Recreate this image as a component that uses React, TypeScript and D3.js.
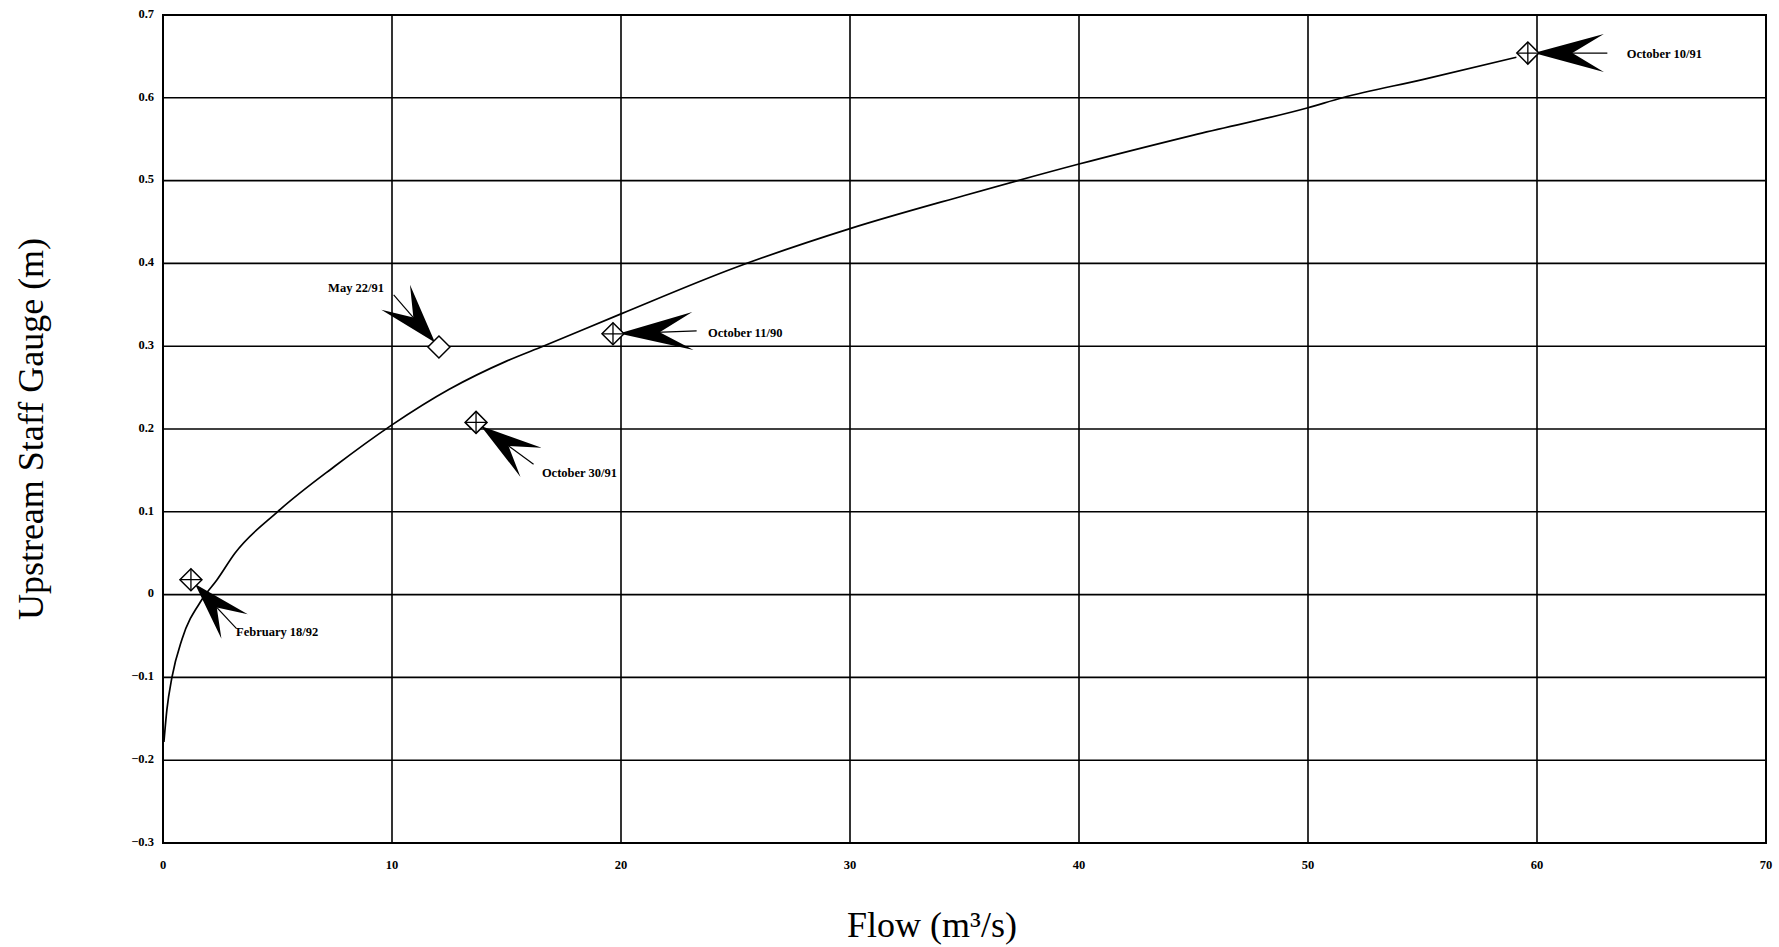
import * as d3 from 'd3'

// rating curve (flow m3/s, stage m)
const curveFlow = [0.04, 0.17, 0.39, 0.83, 1.7, 2.36, 3.14, 5.0, 7.5, 10, 12.5, 15, 16.6, 20, 25, 30, 35, 40, 45, 50, 51.5, 55, 59.1]
const curveStage = [-0.178, -0.139, -0.1, -0.054, -0.006, 0.018, 0.05, 0.1, 0.155, 0.205, 0.248, 0.282, 0.3, 0.339, 0.395, 0.442, 0.482, 0.52, 0.555, 0.588, 0.6, 0.622, 0.649]

// measured points
const pointLabels = ['February 18/92', 'May 22/91', 'October 30/91', 'October 11/90', 'October 10/91']
const pointFlow = [1.22, 12.05, 13.67, 19.65, 59.6]
const pointStage = [0.018, 0.299, 0.208, 0.315, 0.654]
const pointCrossed = [true, false, true, true, true]

const xTicks = [0, 10, 20, 30, 40, 50, 60, 70]
const yTicks = [-0.3, -0.2, -0.1, 0, 0.1, 0.2, 0.3, 0.4, 0.5, 0.6, 0.7]

// arrow placement per point: angle (tip -> tail, degrees), length, half width, label offset
const calloutLayout = [
  { angle: 47, len: 58, w: 18, lx: 41, ly: 49, anchor: 'start' },
  { angle: -131, len: 60, w: 19, lx: -51, ly: -53, anchor: 'end' },
  { angle: 36, len: 62, w: 18, lx: 61, ly: 48, anchor: 'start' },
  { angle: -2, len: 74, w: 19, lx: 89, ly: 1, anchor: 'start' },
  { angle: 0, len: 70, w: 19, lx: 93, ly: 2, anchor: 'start' },
]

const W = 1779
const H = 947
const margin = { left: 163, right: 13, top: 15, bottom: 104 }
const serif = '"Liberation Serif", "Times New Roman", serif'

export default function App() {
  const x = d3.scaleLinear().domain([0, 70]).range([margin.left, W - margin.right])
  const y = d3.scaleLinear().domain([-0.3, 0.7]).range([H - margin.bottom, margin.top])

  const line = d3.line<number>()
    .x((_, i) => x(curveFlow[i]))
    .y((_, i) => y(curveStage[i]))
    .curve(d3.curveMonotoneX)

  const fmt = (v: number) => (v < 0 ? '\u2212' : '') + d3.format('.1~f')(Math.abs(v))

  return (
    <svg
      width={W}
      height={H}
      style={{ position: 'absolute', left: 0, top: 0, background: '#fff' }}
    >
      <rect x={0} y={0} width={W} height={H} fill="#fff" />

      {/* grid */}
      {xTicks.map(t => (
        <line key={'gx' + t} x1={x(t)} x2={x(t)} y1={y(0.7)} y2={y(-0.3)} stroke="#000" strokeWidth={1.6} />
      ))}
      {yTicks.map(t => (
        <line key={'gy' + t} x1={x(0)} x2={x(70)} y1={y(t)} y2={y(t)} stroke="#000" strokeWidth={1.6} />
      ))}
      <rect x={x(0)} y={y(0.7)} width={x(70) - x(0)} height={y(-0.3) - y(0.7)} fill="none" stroke="#000" strokeWidth={2} />

      {/* tick labels */}
      {yTicks.map(t => (
        <text key={'ty' + t} x={x(0) - 9} y={y(t)} textAnchor="end" dominantBaseline="middle"
          fontFamily={serif} fontWeight="bold" fontSize={12.5}>{fmt(t)}</text>
      ))}
      {xTicks.map(t => (
        <text key={'tx' + t} x={x(t)} y={y(-0.3) + 23} textAnchor="middle" dominantBaseline="middle"
          fontFamily={serif} fontWeight="bold" fontSize={12.5}>{t}</text>
      ))}

      {/* curve */}
      <path d={line(curveFlow) ?? ''} fill="none" stroke="#000" strokeWidth={1.7} />

      {/* callouts */}
      {pointLabels.map((label, i) => {
        const cx = x(pointFlow[i])
        const cy = y(pointStage[i])
        const c = calloutLayout[i]
        const a = (c.angle * Math.PI) / 180
        const tx = cx + Math.cos(a) * 6
        const ty = cy + Math.sin(a) * 6
        const shape = `M0,0 L${c.len},${-c.w} L${c.len * 0.55},0 L${c.len},${c.w} Z`
        return (
          <g key={label}>
            <g transform={`translate(${tx},${ty}) rotate(${c.angle})`}>
              <path d={shape} fill="#000" />
              <line x1={c.len * 0.5} x2={c.len * 1.05} y1={0} y2={0} stroke="#000" strokeWidth={1.2} />
            </g>
            <text x={tx + c.lx} y={ty + c.ly} textAnchor={c.anchor as 'start' | 'end'} dominantBaseline="middle"
              fontFamily={serif} fontWeight="bold" fontSize={12.5}>{label}</text>
          </g>
        )
      })}

      {/* point markers */}
      {pointLabels.map((label, i) => {
        const cx = x(pointFlow[i])
        const cy = y(pointStage[i])
        const r = 11
        return (
          <g key={'m' + label}>
            <path d={`M${cx},${cy - r} L${cx + r},${cy} L${cx},${cy + r} L${cx - r},${cy} Z`} fill="#fff" stroke="#000" strokeWidth={1.5} />
            {pointCrossed[i] && (
              <path d={`M${cx - r},${cy} H${cx + r} M${cx},${cy - r} V${cy + r}`} stroke="#000" strokeWidth={1.3} />
            )}
          </g>
        )
      })}

      {/* axis titles */}
      <text x={932} y={937} textAnchor="middle" fontFamily={serif} fontSize={36}>Flow (m³/s)</text>
      <text transform={`translate(43,${(y(0.7) + y(-0.3)) / 2}) rotate(-90)`} textAnchor="middle"
        fontFamily={serif} fontSize={36}>Upstream Staff Gauge (m)</text>
    </svg>
  )
}
